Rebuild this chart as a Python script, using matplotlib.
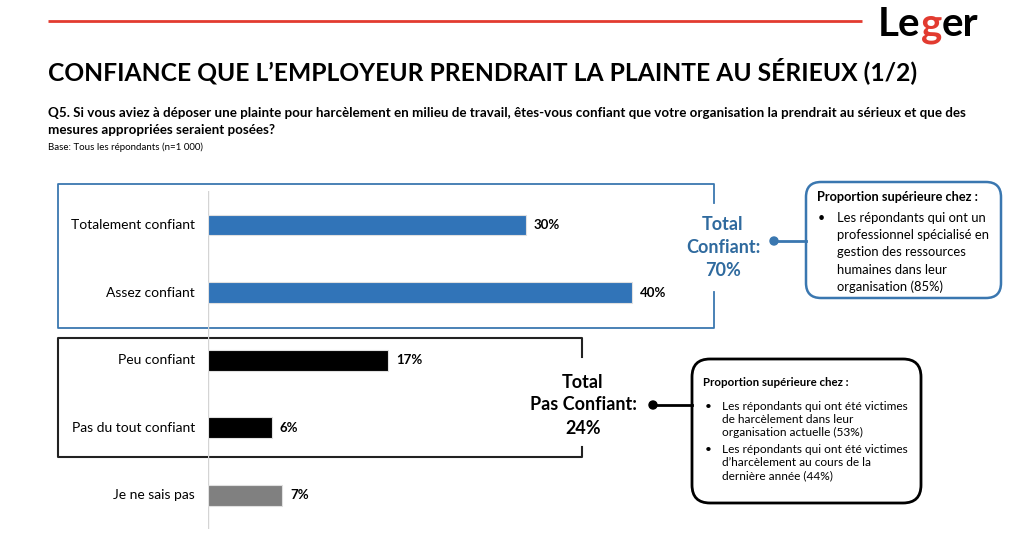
import matplotlib
matplotlib.use("Agg")
import matplotlib.pyplot as plt
from matplotlib.patches import FancyBboxPatch, Circle

# ---------------- data ----------------
categories = ["Totalement confiant", "Assez confiant", "Peu confiant",
              "Pas du tout confiant", "Je ne sais pas"]
values = [30, 40, 17, 6, 7]
value_labels = ["30%", "40%", "17%", "6%", "7%"]
bar_colors = ["#3174B8", "#3174B8", "#000000", "#000000", "#808080"]

title = "CONFIANCE QUE L\u2019EMPLOYEUR PRENDRAIT LA PLAINTE AU SÉRIEUX (1/2)"
question_1 = ("Q5. Si vous aviez à déposer une plainte pour harcèlement en milieu de travail, "
              "êtes-vous confiant que votre organisation la prendrait au sérieux et que des")
question_2 = "mesures appropriées seraient posées?"
base_text = "Base: Tous les répondants (n=1 000)"

total_confiant = ["Total", "Confiant:", "70%"]
total_pas = ["Total", "Pas Confiant:", "24%"]

callout_head = "Proportion supérieure chez :"
callout_blue = [["Les répondants qui ont un", "professionnel spécialisé en",
                 "gestion des ressources", "humaines dans leur", "organisation (85%)"]]
callout_black = [["Les répondants qui ont été victimes", "de harcèlement dans leur",
                  "organisation actuelle (53%)"],
                 ["Les répondants qui ont été victimes", "d\u2019harcèlement au cours de la",
                  "dernière année (44%)"]]
logo_parts = ["Le", "g", "er"]

FONT = ["Lato", "DejaVu Sans"]
plt.rcParams["font.family"] = FONT

BLUE = "#2F6A9E"
BOXBLUE = "#3A77B0"
RED = "#E23B30"

W, H = 1024, 560
fig = plt.figure(figsize=(W / 100, H / 100), dpi=100)
bg = fig.add_axes([0, 0, 1, 1])
bg.set_xlim(0, W)
bg.set_ylim(H, 0)
bg.axis("off")

renderer = fig.canvas.get_renderer()


def width_px(t):
    return t.get_window_extent(renderer).width


def fit(t, target_w):
    t.set_fontsize(t.get_fontsize() * target_w / width_px(t))
    return t


# ---------------- header ----------------
bg.plot([48, 862], [21, 21], color=RED, lw=2, solid_capstyle="butt")
probe = bg.text(0, 0, "".join(logo_parts), fontsize=30, fontweight="bold")
fit(probe, 100)
logo_fs = probe.get_fontsize()
probe.remove()
lx = 878
for part, col in zip(logo_parts, ["black", RED, "black"]):
    t = bg.text(lx, 36, part, fontsize=logo_fs, fontweight="bold",
                ha="left", va="baseline", color=col)
    lx += width_px(t)

tt = bg.text(48, 71, title, fontsize=18, fontweight="bold", ha="left", va="center")
fit(tt, 867)
q1 = bg.text(48, 113, question_1, fontsize=10, fontweight="bold", ha="left", va="center")
fit(q1, 914)
bg.text(48, 130, question_2, fontsize=q1.get_fontsize(), fontweight="bold",
        ha="left", va="center")
bg.text(48, 147, base_text, fontsize=7, ha="left", va="center")

# ---------------- group boxes ----------------
bg.plot([714, 714, 58, 58, 714, 714], [203, 184, 184, 328, 328, 292],
        color=BOXBLUE, lw=1.3)
bg.plot([582, 582, 58, 58, 582, 582], [357, 338, 338, 457, 457, 447],
        color="#222222", lw=1.5)

for i, s in enumerate(total_confiant):
    bg.text(723, 224 + 23.5 * i, s, color=BLUE, fontsize=13, fontweight="bold",
            ha="center", va="center")
for i, s in enumerate(total_pas):
    bg.text(583, 382 + 23 * i, s, color="black", fontsize=13, fontweight="bold",
            ha="center", va="center")

# connectors
bg.plot([774, 806], [241, 241], color=BOXBLUE, lw=2)
bg.add_patch(Circle((774, 241), 4, color=BOXBLUE))
bg.plot([653, 692], [405, 405], color="black", lw=2)
bg.add_patch(Circle((653, 405), 4, color="black"))

# callout boxes
bg.add_patch(FancyBboxPatch((806, 182), 195, 116,
                            boxstyle="round,pad=0,rounding_size=15",
                            fc="white", ec=BOXBLUE, lw=1.8))
bg.text(817, 197, callout_head, fontsize=9.2, fontweight="bold", ha="left", va="center")
y = 218
for bullet in callout_blue:
    bg.text(818, y, "•", fontsize=9, ha="left", va="center")
    for line in bullet:
        bg.text(837, y, line, fontsize=9.4, ha="left", va="center")
        y += 17.2

bg.add_patch(FancyBboxPatch((692, 359), 229, 144,
                            boxstyle="round,pad=0,rounding_size=18",
                            fc="white", ec="black", lw=2))
bg.text(703, 383, callout_head, fontsize=8.3, fontweight="bold", ha="left", va="center")
y = 406
for bullet in callout_black:
    bg.text(705, y, "•", fontsize=8.5, ha="left", va="center")
    for line in bullet:
        bg.text(722, y, line, fontsize=8.6, ha="left", va="center")
        y += 13.3
    y += 3.3

# ---------------- bars ----------------
px_per_unit = 10.6
x0 = 208
pitch = 67.6
y_first = 225
top_px = y_first - 0.5 * pitch
bot_px = y_first + 4.5 * pitch
ax = fig.add_axes([x0 / W, 1 - bot_px / H, (W - x0) / W, (bot_px - top_px) / H])
ax.set_xlim(0, (W - x0) / px_per_unit)
ax.set_ylim(4.5, -0.5)
ax.patch.set_alpha(0)
ax.axis("off")
ypos = list(range(len(categories)))
ax.barh(ypos, values, height=0.31, color=bar_colors, edgecolor="#e0e0e0", linewidth=0.8,
        zorder=3)
ax.axvline(0, color="#d4d4d4", lw=1, zorder=2)
for yi, cat, v, lab in zip(ypos, categories, values, value_labels):
    ax.text(-13 / px_per_unit, yi, cat, ha="right", va="center", fontsize=10)
    ax.text(v + 8 / px_per_unit, yi, lab, ha="left", va="center", fontsize=9.5,
            fontweight="bold")

fig.savefig("out.png", dpi=100)
